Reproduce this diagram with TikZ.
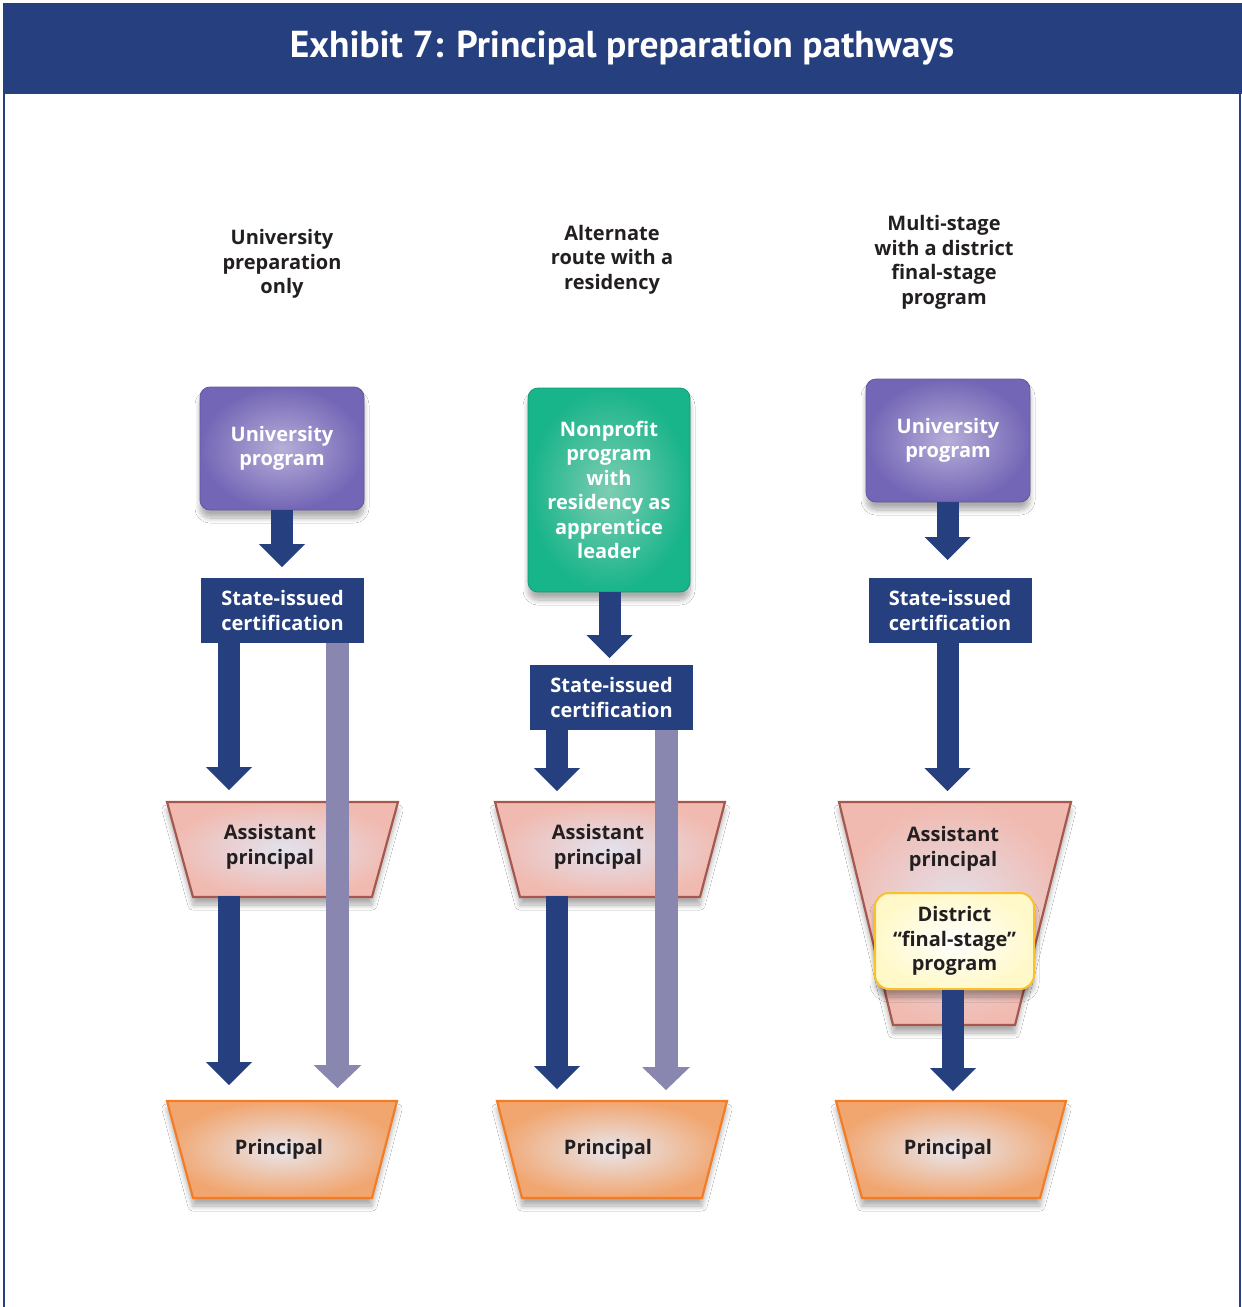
\documentclass[tikz,border=0pt]{standalone}
\usepackage{fontspec}
\setmainfont{Open Sans}
\newfontfamily\titlefont{PT Sans}
\usetikzlibrary{arrows.meta,shadows.blur,calc}
\definecolor{navy}{RGB}{38,63,127}
\definecolor{lav}{RGB}{137,134,176}
\definecolor{purp}{RGB}{116,102,182}
\definecolor{purplight}{RGB}{182,174,216}
\definecolor{grn}{RGB}{24,180,138}
\definecolor{grnlight}{RGB}{125,205,178}
\definecolor{apfill}{RGB}{241,186,176}
\definecolor{aplight}{RGB}{226,226,238}
\definecolor{apdraw}{RGB}{165,88,78}
\definecolor{prfill}{RGB}{241,166,112}
\definecolor{prlight}{RGB}{232,230,236}
\definecolor{prdraw}{RGB}{244,124,36}
\definecolor{dfill}{RGB}{255,249,202}
\definecolor{ddraw}{RGB}{250,192,45}
\definecolor{txt}{RGB}{35,31,32}
\tikzset{
  bodyfont/.style={font=\bfseries\fontsize{20}{24.5}\selectfont},
  caption/.style={bodyfont, text=txt, align=center},
  softshadow/.style={blur shadow={shadow xshift=0pt, shadow yshift=-8pt,
    shadow blur radius=5pt, shadow opacity=32, shadow blur steps=12}},
  progbox/.style={bodyfont, text=white, align=center, rounded corners=10pt,
    draw=purp!85!black, line width=0.8pt, shading=radial,
    inner color=purplight, outer color=purp,
    minimum width=164pt, minimum height=123pt, softshadow},
  greenbox/.style={progbox, draw=grn!85!black, inner color=grnlight, outer color=grn,
    minimum width=162pt, minimum height=204pt},
  certbox/.style={bodyfont, text=white, align=center, fill=navy,
    minimum width=163pt, minimum height=65pt, inner sep=0pt},
  trap/.style={line width=2.2pt, shading=radial, softshadow},
  apshape/.style={trap, draw=apdraw, inner color=aplight, outer color=apfill},
  prshape/.style={trap, draw=prdraw, inner color=prlight, outer color=prfill},
  distbox/.style={bodyfont, text=txt, align=center, rounded corners=14pt,
    draw=ddraw, line width=2pt, shading=radial, inner color=white, outer color=dfill,
    minimum width=159pt, minimum height=96pt, softshadow},
  navyarrow/.style={draw=navy, line width=22pt,
    -{Triangle[width=46pt,length=23pt,line width=0pt]}},
  lavarrow/.style={draw=lav, line width=23pt,
    -{Triangle[width=48pt,length=23pt,line width=0pt]}},
}
\begin{document}
\begin{tikzpicture}[x=1pt,y=-1pt]
\useasboundingbox (0,0) rectangle (1242,1307);
\fill[white] (0,0) rectangle (1242,1307);
% frame and title
\draw[navy, line width=2.5pt] (4,90) -- (4,1310);
\draw[navy, line width=2.5pt] (1240,90) -- (1240,1310);
\node[fill=navy, minimum width=1239pt, minimum height=91pt, inner sep=0pt,
  text=white, font=\titlefont\bfseries\fontsize{37.5}{40}\selectfont]
  (title) at (622,48) {Exhibit 7: Principal preparation pathways};

% captions
\node[caption] (cap1) at (282,264) {University\\preparation\\only};
\node[caption] (cap2) at (612,259.5) {Alternate\\route with a\\residency};
\node[caption] (cap3) at (944,262.5) {Multi-stage\\with a district\\final-stage\\program};

% trapezoid shapes
\path[apshape] (167,802) -- (398,802) -- (372,897) -- (193,897) -- cycle;
\path[prshape] (167,1101) -- (397,1101) -- (372,1198) -- (193,1198) -- cycle;
\path[apshape] (495,802) -- (725,802) -- (700,897) -- (520,897) -- cycle;
\path[prshape] (497,1101) -- (727,1101) -- (702,1198) -- (522,1198) -- cycle;
\path[apshape] (839,802) -- (1071,802) -- (1015,1025) -- (893,1025) -- cycle;
\path[prshape] (836,1101) -- (1066,1101) -- (1040,1198) -- (862,1198) -- cycle;

% column 1
\node[progbox] (prog1) at (282,448.5) {University\\program};
\node[certbox] (cert1) at (282.5,610.5) {State-issued\\certification};
\node[caption] (ap1) at (270,847) {Assistant\\principal};
\node[caption] (pr1) at (279,1149) {Principal};
\coordinate (a1) at (282,567);
\coordinate (b1) at (229,790);
\coordinate (s1) at (229,896);
\coordinate (c1) at (337.5,1088);
\coordinate (d1) at (229,1085);
\draw[navyarrow] (prog1.south -| a1) -- (a1);
\draw[navyarrow] (cert1.south -| b1) -- (b1);
\draw[navyarrow] (s1) -- (d1);
\draw[lavarrow] (cert1.south -| c1) -- (c1);

% column 2
\node[greenbox] (prog2) at (609,490) {Nonprofit\\program\\with\\residency as\\apprentice\\leader};
\node[certbox] (cert2) at (611.5,697.5) {State-issued\\certification};
\node[caption] (ap2) at (598,847) {Assistant\\principal};
\node[caption] (pr2) at (608,1149) {Principal};
\coordinate (a2) at (609.5,658);
\coordinate (b2) at (557,791);
\coordinate (s2) at (557,896);
\coordinate (c2) at (666,1090);
\coordinate (d2) at (557,1089);
\draw[navyarrow] (prog2.south -| a2) -- (a2);
\draw[navyarrow] (cert2.south -| b2) -- (b2);
\draw[navyarrow] (s2) -- (d2);
\draw[lavarrow] (cert2.south -| c2) -- (c2);

% column 3
\node[progbox] (prog3) at (948,440.5) {University\\program};
\node[certbox] (cert3) at (950,610.5) {State-issued\\certification};
\node[caption] (ap3) at (953,849) {Assistant\\principal};
\node[caption] (pr3) at (948,1149) {Principal};
\coordinate (a3) at (947.5,560);
\coordinate (b3) at (947.5,791);
\coordinate (d3) at (953,1091);
\draw[navyarrow] (prog3.south -| a3) -- (a3);
\draw[navyarrow] (cert3.south -| b3) -- (b3);
\node[distbox] (dist3) at (954.5,941) {District\\“final-stage”\\program};
\draw[navyarrow] (dist3.south -| d3) -- (d3);
\end{tikzpicture}
\end{document}
